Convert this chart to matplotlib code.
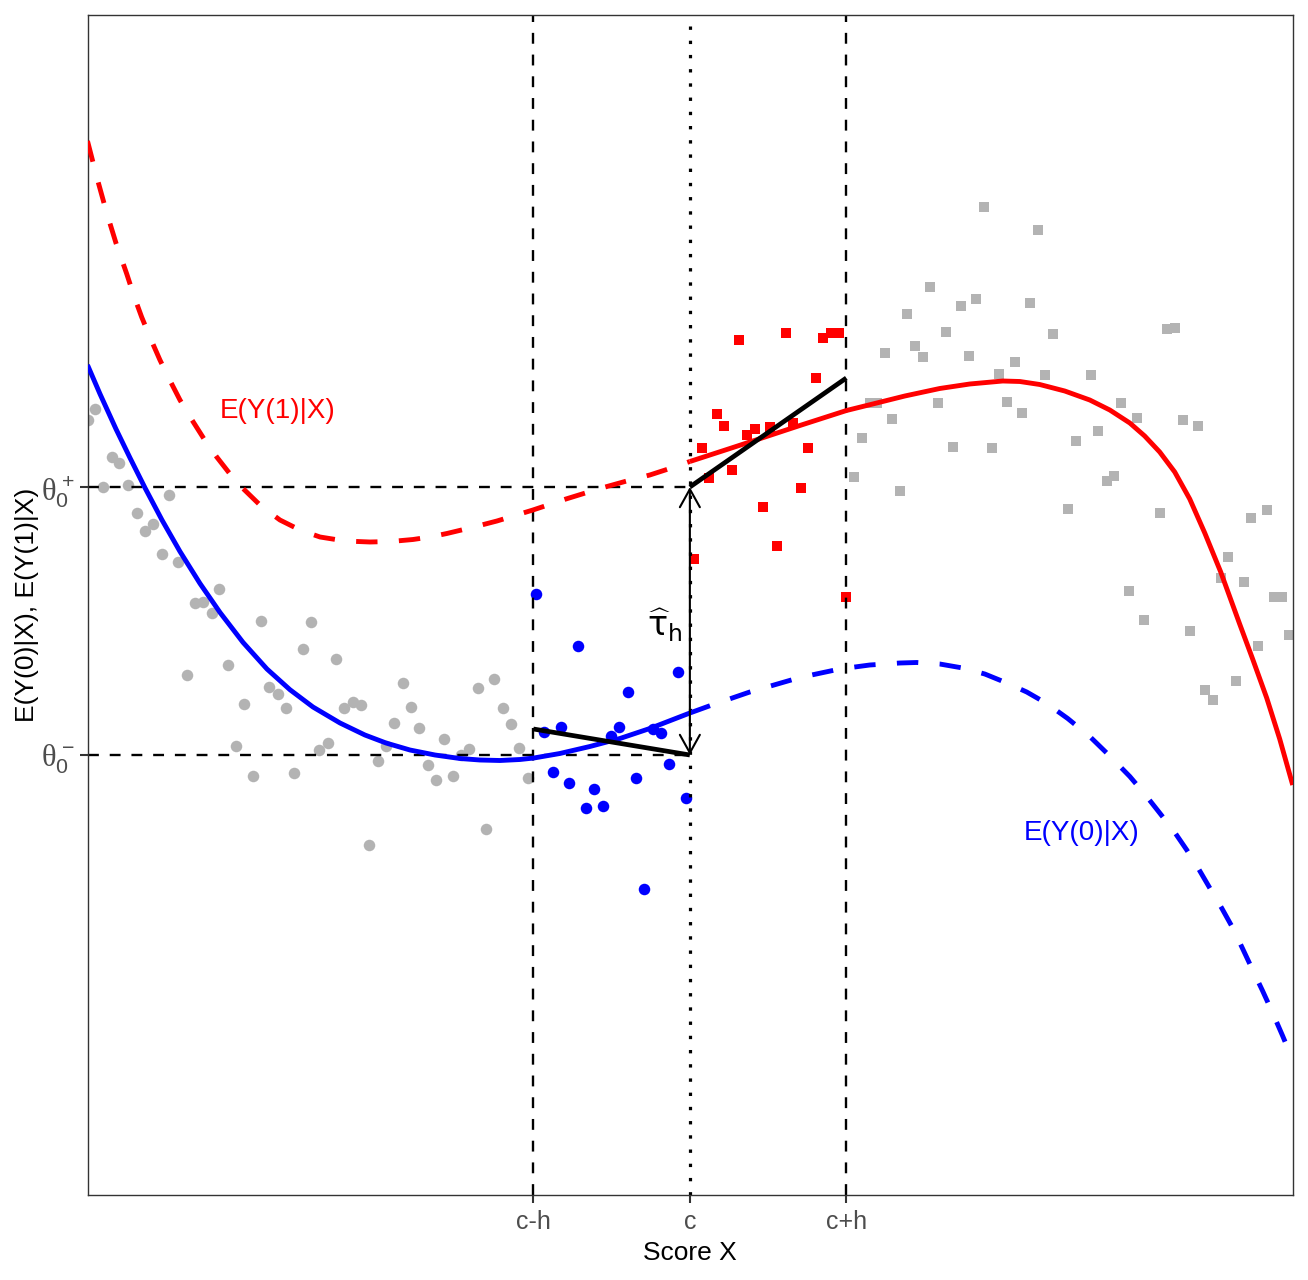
import numpy as np
import matplotlib
matplotlib.use("Agg")
import matplotlib.pyplot as plt
from matplotlib.patches import ArrowStyle

plt.rcParams['font.family'] = ['Liberation Sans', 'DejaVu Sans']
plt.rcParams['mathtext.fontset'] = 'custom'
plt.rcParams['mathtext.rm'] = 'Liberation Sans'
plt.rcParams['mathtext.it'] = 'Liberation Serif'
plt.rcParams['mathtext.bf'] = 'Liberation Sans:bold'

# ---------------- data ----------------
c = 0.0
h = 1.0
theta_minus = 4.40
theta_plus = 7.08
left_fit_y = [4.66, theta_minus]     # local linear fit at c-h and c
right_fit_y = [theta_plus, 8.17]     # local linear fit at c and c+h

gray_left_x = [-3.85, -3.80, -3.695, -3.647, -3.749, -3.589, -3.327, -3.536, -3.482,
               -3.429, -3.376, -3.270, -3.008, -3.163, -3.110, -3.056, -2.741, -2.422,
               -2.475, -2.262, -2.950, -3.216, -2.688, -2.635, -2.848, -2.581, -2.209,
               -2.155, -2.102, -1.836, -1.783, -1.357, -1.250, -1.197, -1.144, -1.889,
               -1.730, -1.570, -1.091, -1.410, -1.463, -1.942, -1.996, -2.315, -2.369,
               -2.901, -2.794, -2.528, -1.676, -1.623, -1.516, -1.037, -1.304, -2.049]
gray_left_y = [7.75, 7.86, 7.38, 7.32, 7.08, 7.10, 7.00, 6.82, 6.64,
               6.71, 6.41, 6.33, 6.06, 5.92, 5.93, 5.82, 5.74, 5.73,
               5.46, 5.36, 5.30, 5.20, 5.08, 5.01, 4.91, 4.87, 4.87,
               4.93, 4.90, 5.12, 4.88, 5.07, 5.16, 4.87, 4.71, 4.72,
               4.67, 4.56, 4.47, 4.46, 4.40, 4.49, 4.34, 4.52, 4.45,
               4.49, 4.19, 4.22, 4.30, 4.15, 4.19, 4.17, 3.66, 3.50]

blue_x = [-0.984, -0.718, -0.079, -0.398, -0.931, -0.824, -0.452, -0.505, -0.238,
          -0.185, -0.132, -0.877, -0.771, -0.612, -0.665, -0.558, -0.345, -0.026, -0.292]
blue_y = [6.01, 5.49, 5.23, 5.03, 4.63, 4.68, 4.68, 4.59, 4.66,
          4.62, 4.31, 4.23, 4.12, 4.06, 3.87, 3.89, 4.17, 3.97, 3.06]

red_x = [0.315, 0.612, 0.852, 0.905, 0.954, 0.805, 0.171, 0.219, 0.415, 0.362, 0.511,
         0.656, 0.075, 0.756, 0.270, 0.123, 0.709, 0.465, 0.560, 0.027, 1.001]
red_y = [8.55, 8.62, 8.57, 8.62, 8.62, 8.17, 7.81, 7.69, 7.66, 7.60, 7.68,
         7.72, 7.47, 7.47, 7.25, 7.17, 7.07, 6.88, 6.49, 6.36, 5.98]

gray_right_x = [1.097, 1.050, 1.879, 2.222, 1.538, 1.832, 1.734, 2.173, 1.391, 1.636,
                2.318, 3.052, 3.099, 1.246, 1.442, 1.489, 1.783, 2.075, 1.979, 2.270,
                2.562, 1.150, 1.197, 1.587, 2.026, 2.123, 2.758, 2.856, 3.150, 3.246,
                1.295, 2.611, 2.466, 1.685, 1.930, 1.342, 2.709, 2.663, 2.417, 3.003,
                3.589, 3.687, 3.442, 3.393, 3.540, 3.732, 3.783, 2.807, 2.903, 3.197,
                3.827, 3.634, 3.489, 3.295, 3.344]
gray_right_y = [7.57, 7.18, 9.88, 9.65, 9.08, 8.96, 8.89, 8.92, 8.81, 8.63,
                8.61, 8.66, 8.67, 8.42, 8.49, 8.38, 8.39, 8.33, 8.21, 8.20,
                8.20, 7.92, 7.92, 7.92, 7.93, 7.82, 7.92, 7.77, 7.75, 7.69,
                7.76, 7.64, 7.54, 7.48, 7.47, 7.04, 7.19, 7.14, 6.86, 6.82,
                6.77, 6.85, 6.38, 6.17, 6.13, 5.98, 5.98, 6.04, 5.75, 5.64,
                5.60, 5.49, 5.14, 5.05, 4.95]

# E(Y(0)|X)
curve0_x = [-3.850, -3.770, -3.668, -3.578, -3.482, -3.374, -3.259, -3.131, -3.003,
            -2.856, -2.703, -2.556, -2.409, -2.236, -2.077, -1.942, -1.789, -1.629,
            -1.470, -1.342, -1.214, -1.086, -0.997, -0.831, -0.639, -0.447, -0.256,
            0.0, 0.141, 0.383, 0.703, 0.958, 1.150, 1.342, 1.450, 1.597, 1.744,
            1.885, 2.026, 2.153, 2.281, 2.415, 2.556, 2.684, 2.812, 2.907, 3.003,
            3.093, 3.176, 3.252, 3.323, 3.399, 3.470, 3.534, 3.597, 3.661, 3.725,
            3.789, 3.853]
curve0_y = [8.30, 8.01, 7.66, 7.37, 7.07, 6.75, 6.435, 6.115, 5.825,
            5.526, 5.26, 5.053, 4.88, 4.72, 4.60, 4.52, 4.45, 4.40,
            4.365, 4.35, 4.345, 4.355, 4.37, 4.415, 4.485, 4.565, 4.665,
            4.82, 4.90, 5.03, 5.175, 5.26, 5.30, 5.32, 5.325, 5.31, 5.27,
            5.21, 5.12, 5.03, 4.915, 4.765, 4.585, 4.39, 4.185, 4.01, 3.82,
            3.64, 3.45, 3.26, 3.07, 2.87, 2.67, 2.46, 2.25, 2.04, 1.82,
            1.59, 1.35]

# E(Y(1)|X)
curve1_x = [-3.850, -3.789, -3.727, -3.668, -3.599, -3.553, -3.504, -3.450, -3.387,
            -3.323, -3.259, -3.182, -3.105, -3.024, -2.939, -2.856, -2.741, -2.620,
            -2.492, -2.364, -2.204, -2.045, -1.911, -1.770, -1.661, -1.553, -1.393,
            -1.233, -1.118, -1.003, -0.792, -0.575, -0.415, -0.256, -0.128, 0.0,
            0.256, 0.490, 0.703, 1.001, 1.169, 1.374, 1.597, 1.789, 2.000, 2.109,
            2.236, 2.396, 2.556, 2.684, 2.812, 2.907, 3.003, 3.099, 3.195, 3.291,
            3.393, 3.514, 3.597, 3.687, 3.770, 3.853]
curve1_y = [10.54, 10.17, 9.82, 9.52, 9.21, 8.99, 8.78, 8.575, 8.35,
            8.145, 7.95, 7.75, 7.56, 7.38, 7.21, 7.065, 6.89, 6.75,
            6.65, 6.58, 6.54, 6.53, 6.535, 6.555, 6.58, 6.615, 6.675,
            6.74, 6.795, 6.85, 6.96, 7.065, 7.135, 7.20, 7.265, 7.335,
            7.465, 7.585, 7.695, 7.845, 7.91, 7.99, 8.065, 8.11, 8.14, 8.135,
            8.105, 8.04, 7.95, 7.85, 7.72, 7.59, 7.43, 7.23, 6.96, 6.62,
            6.23, 5.71, 5.36, 4.97, 4.56, 4.10]

xlim = (-3.85, 3.853)
ylim = (0.0, 11.8)

# ---------------- styles ----------------
RED = '#FF0000'
BLUE = '#0000FF'
GRAY = '#B3B3B3'
AX_COL = '#333333'
TICK_COL = '#4D4D4D'

fig = plt.figure(figsize=(13.08, 12.80), dpi=100)
ax = fig.add_axes([87.5 / 1308, 85 / 1280, (1292.7 - 87.5) / 1308, (1195 - 15) / 1280])

# points
ax.plot(gray_left_x, gray_left_y, 'o', color=GRAY, ms=8.3, mew=0, zorder=2)
ax.plot(gray_right_x, gray_right_y, 's', color=GRAY, ms=7.6, mew=0, zorder=2)
ax.plot(blue_x, blue_y, 'o', color=BLUE, ms=8.3, mew=0, zorder=2)
ax.plot(red_x, red_y, 's', color=RED, ms=7.6, mew=0, zorder=2)

# reference lines
ref_kw = dict(color='black', lw=1.7, dashes=(4.6, 4.6), zorder=2.5)
ax.axvline(c - h, **ref_kw)
ax.axvline(c + h, **ref_kw)
ax.plot([xlim[0], c], [theta_plus, theta_plus], **ref_kw)
ax.plot([xlim[0], c], [theta_minus, theta_minus], **ref_kw)
ax.axvline(c, color='black', lw=2.3, dashes=(1.05, 3.4), zorder=2.5)

# regression functions
x0 = np.array(curve0_x); y0 = np.array(curve0_y)
x1 = np.array(curve1_x); y1 = np.array(curve1_y)
lw_c = 3.5
dash_c = (4.4, 4.4)
ax.plot(x0[x0 <= c], y0[x0 <= c], color=BLUE, lw=lw_c, solid_capstyle='butt',
        solid_joinstyle='round', zorder=3)
ax.plot(x0[x0 >= c], y0[x0 >= c], color=BLUE, lw=lw_c, dashes=dash_c,
        dash_joinstyle='round', zorder=3)
ax.plot(x1[x1 <= c], y1[x1 <= c], color=RED, lw=lw_c, dashes=dash_c,
        dash_joinstyle='round', zorder=3)
ax.plot(x1[x1 >= c], y1[x1 >= c], color=RED, lw=lw_c, solid_capstyle='butt',
        solid_joinstyle='round', zorder=3)

# local linear fits
ax.plot([c - h, c], left_fit_y, color='black', lw=3.4, solid_capstyle='butt', zorder=4)
ax.plot([c, c + h], right_fit_y, color='black', lw=3.4, solid_capstyle='butt', zorder=4)

# treatment effect arrow
ax.annotate('', xy=(c, theta_plus), xytext=(c, theta_minus),
            arrowprops=dict(arrowstyle=ArrowStyle('<->', head_length=1.3, head_width=0.72),
                            mutation_scale=10, lw=1.5, color='black',
                            shrinkA=0, shrinkB=0), zorder=5)
ax.text(-0.16, 5.70, r'$\widehat{\mathrm{\tau}}_{\mathrm{h}}$', fontsize=24,
        math_fontfamily='dejavusans', ha='center', va='center', zorder=5)

# curve labels
ax.text(-2.633, 7.84, 'E(Y(1)|X)', color=RED, fontsize=20, ha='center', va='center')
ax.text(2.503, 3.62, 'E(Y(0)|X)', color=BLUE, fontsize=20, ha='center', va='center')

# axes
ax.set_xlim(*xlim)
ax.set_ylim(*ylim)
ax.set_xticks([c - h, c, c + h])
ax.set_xticklabels(['c-h', 'c', 'c+h'])
ax.set_yticks([theta_minus, theta_plus])
ax.set_yticklabels([r'$\theta_0^-$', r'$\theta_0^+$'])
ax.tick_params(axis='x', labelsize=18, labelcolor=TICK_COL, color=AX_COL,
               length=5.5, width=1.5, pad=5)
ax.tick_params(axis='y', labelsize=22, labelcolor=TICK_COL, color=AX_COL,
               length=5.5, width=1.5, pad=4)
for sp in ax.spines.values():
    sp.set_color(AX_COL)
    sp.set_linewidth(1.0)

ax.set_xlabel('Score X', fontsize=19, color='black')
ax.set_ylabel('E(Y(0)|X), E(Y(1)|X)', fontsize=19, color='black')
ax.xaxis.set_label_coords(0.5, -0.039)
ax.yaxis.set_label_coords(-0.040, 0.5)

fig.savefig('out.png', dpi=100)
